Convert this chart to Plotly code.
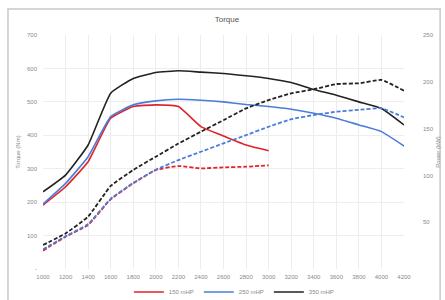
import plotly.graph_objects as go

rpm = [1000, 1200, 1400, 1600, 1800, 2000, 2200, 2400, 2600, 2800, 3000, 3200, 3400, 3600, 3800, 4000, 4200]
x_ticks = [str(v) for v in rpm]

# Torque (N·m), left axis
torque_150 = [191, 246, 321, 451, 486, 491, 486, 426, 398, 371, 354]
torque_250 = [194, 256, 336, 456, 491, 503, 508, 505, 500, 492, 486, 478, 466, 451, 431, 411, 368]
torque_350 = [231, 281, 371, 526, 570, 588, 593, 589, 585, 578, 570, 558, 537, 520, 500, 480, 431]

# Power (kW), right axis
power_150 = [19.6, 34.5, 47, 74.5, 91.5, 105.8, 110, 107.5, 108.6, 109.3, 110.8]
power_250 = [21, 35, 48, 75, 92, 106, 116.4, 125.3, 134.3, 143, 152, 160, 164.5, 168, 170, 171.7, 162]
power_350 = [25.6, 38, 56, 88.7, 105.8, 120, 134, 146.7, 159, 171.6, 180.5, 187.7, 192, 197.6, 198.4, 202, 190.5]

names = ["150 mHP", "250 mHP", "350 mHP"]
colors = ["#e0222b", "#4a7dd8", "#222222"]

fig = go.Figure()
for name, col, tq in zip(names, colors, [torque_150, torque_250, torque_350]):
    fig.add_trace(go.Scatter(x=rpm[:len(tq)], y=tq, mode="lines", name=name,
                             line=dict(color=col, width=1.6, shape="spline", smoothing=0.4),
                             yaxis="y"))
for name, col, pw in zip(names, colors, [power_150, power_250, power_350]):
    fig.add_trace(go.Scatter(x=rpm[:len(pw)], y=pw, mode="lines", name=name + " power",
                             showlegend=False,
                             line=dict(color=col, width=1.8, dash="4px,2px", shape="spline", smoothing=0.4),
                             yaxis="y2"))

fam = "Liberation Sans, Arial, sans-serif"
tickfont = dict(family=fam, size=6, color="#8a8a8a")

fig.update_layout(
    width=445, height=300,
    margin=dict(l=43, r=41, t=35, b=31, autoexpand=False),
    paper_bgcolor="white", plot_bgcolor="white",
    title=dict(text="Torque", x=0.51, xanchor="center", y=0.935, yanchor="middle",
               font=dict(family=fam, size=8, color="#555555")),
    xaxis=dict(range=[1000, 4200], tickmode="array", tickvals=rpm, ticktext=x_ticks,
               showgrid=True, gridcolor="#ececec", gridwidth=1, zeroline=False,
               showline=False, tickfont=tickfont, ticklabelstandoff=3, ticks=""),
    yaxis=dict(range=[0, 700], tickmode="array", tickvals=[0, 100, 200, 300, 400, 500, 600, 700],
               ticktext=["-", "100", "200", "300", "400", "500", "600", "700"],
               showgrid=True, gridcolor="#eeeeee", zeroline=False, showline=False,
               tickfont=tickfont, ticklabelstandoff=5,
               title=dict(text="Torque (Nm)", standoff=5,
                          font=dict(family=fam, size=6, color="#8a8a8a"))),
    yaxis2=dict(range=[0, 250], overlaying="y", side="right",
                tickmode="array", tickvals=[50, 100, 150, 200, 250],
                ticktext=["50", "100", "150", "200", "250"],
                showgrid=False, zeroline=False, showline=False,
                tickfont=tickfont, ticklabelstandoff=18,
                title=dict(text="Power (kW)", standoff=3,
                           font=dict(family=fam, size=6, color="#8a8a8a"))),
    legend=dict(orientation="h", x=0.53, xanchor="center", y=-0.098, yanchor="middle",
                font=dict(family=fam, size=6, color="#8a8a8a"),
                bgcolor="rgba(0,0,0,0)", itemwidth=30, tracegroupgap=0),
    showlegend=True,
    shapes=[dict(type="rect", xref="paper", yref="paper", x0=-0.097, x1=1.1, y0=-0.14, y1=1.111,
                 line=dict(color="#c8c8c8", width=1.5), fillcolor="rgba(0,0,0,0)", layer="below")],
)

fig.write_html("out.html", config={"displayModeBar": False},
               post_script="document.body.style.margin='0';document.body.style.overflow='hidden';")
